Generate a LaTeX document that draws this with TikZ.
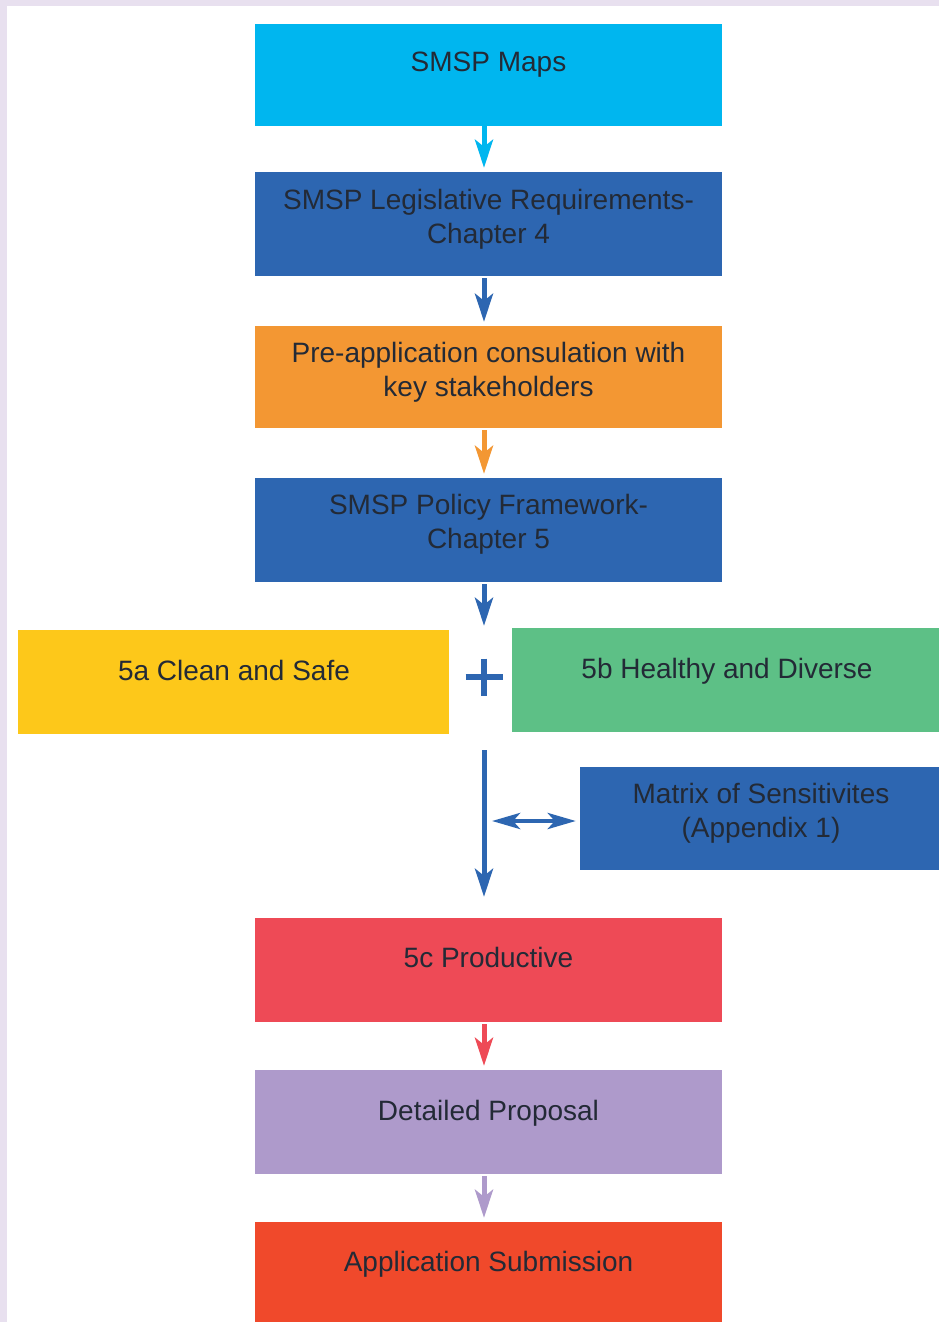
\documentclass[tikz,border=0pt]{standalone}
\usepackage{fontspec}
\setmainfont{Liberation Sans}
\usetikzlibrary{arrows.meta}
\definecolor{bgl}{HTML}{E8E0EF}
\definecolor{ccyan}{HTML}{00B6EF}
\definecolor{cblue}{HTML}{2D66B1}
\definecolor{corange}{HTML}{F39733}
\definecolor{cyellow}{HTML}{FDC81A}
\definecolor{cgreen}{HTML}{5DC086}
\definecolor{cred}{HTML}{EE4A56}
\definecolor{clav}{HTML}{AE9ACB}
\definecolor{capp}{HTML}{F0492B}
\definecolor{txt}{HTML}{232A36}
\begin{document}
\begin{tikzpicture}[x=1pt,y=-1pt,
  box/.style={rectangle, inner sep=0pt, draw=none, minimum width=467pt, minimum height=104pt},
  lbl/.style={text=txt, font=\fontsize{28}{34}\selectfont, align=center, inner sep=0pt},
  arr/.style={line width=5pt, -{Stealth[length=28pt,width=18pt,inset=7pt]}, shorten <=2pt, shorten >=4pt},
  darr/.style={line width=4.5pt, {Stealth[length=28pt,width=16pt,inset=7pt]}-{Stealth[length=28pt,width=16pt,inset=7pt]}}
]
\useasboundingbox (0,0) rectangle (939,1322);
\clip (0,0) rectangle (939,1322);
\fill[bgl] (0,0) rectangle (939,1322);
\fill[white] (7,6) rectangle (939,1322);

\coordinate (ax) at (484,0);

\node[box, fill=ccyan, minimum height=102pt] (b1) at (488.5,75) {};
\node[lbl] (t1) at (488.5,65) {SMSP Maps};

\node[box, fill=cblue] (b2) at (488.5,224) {};
\node[lbl] (t2) at (488.5,219) {SMSP Legislative Requirements-\\Chapter 4};

\node[box, fill=corange, minimum height=102pt] (b3) at (488.5,377) {};
\node[lbl] (t3) at (488.5,372) {Pre-application consulation with\\key stakeholders};

\node[box, fill=cblue] (b4) at (488.5,530) {};
\node[lbl] (t4) at (488.5,524) {SMSP Policy Framework-\\Chapter 5};

\node[box, fill=cyellow, minimum width=431pt] (b5a) at (233.5,682) {};
\node[lbl] (t5a) at (234,670) {5a Clean and Safe};

\node[box, fill=cgreen, minimum width=427pt] (b5b) at (725.5,680) {};
\node[lbl] (t5b) at (727,671) {5b Healthy and Diverse};

\coordinate (plus) at (484,677);
\draw[cblue, line width=6.5pt] ([xshift=-18.5pt]plus) -- ([xshift=18.5pt]plus);
\draw[cblue, line width=6.5pt] ([yshift=18.5pt]plus) -- ([yshift=-18.5pt]plus);

\node[box, fill=cblue, minimum width=359pt, minimum height=103pt] (bm) at (759.5,818.5) {};
\node[lbl] (tm) at (761,813.5) {Matrix of Sensitivites\\(Appendix 1)};

\node[box, fill=cred] (b5c) at (488.5,970) {};
\node[lbl] (t5c) at (488.5,957) {5c Productive};

\node[box, fill=clav] (b6) at (488.5,1122) {};
\node[lbl] (t6) at (488.5,1113) {Detailed Proposal};

\node[box, fill=capp] (b7) at (488.5,1274) {};
\node[lbl] (t7) at (488.5,1264) {Application Submission};

\draw[arr, ccyan, shorten <=0pt] (b1.south -| ax) -- (b2.north -| ax);
\draw[arr, cblue] (b2.south -| ax) -- (b3.north -| ax);
\draw[arr, corange] (b3.south -| ax) -- (b4.north -| ax);
\draw[arr, cblue] (b4.south -| ax) -- (b5a.north -| ax);
\draw[arr, cblue, shorten <=16pt, shorten >=21pt] (b5a.south -| ax) -- (b5c.north -| ax);
\coordinate (dl) at (492,821);
\draw[darr, cblue, shorten >=4pt] (dl) -- (dl -| bm.west);
\draw[arr, cred] (b5c.south -| ax) -- (b6.north -| ax);
\draw[arr, clav] (b6.south -| ax) -- (b7.north -| ax);
\end{tikzpicture}
\end{document}
